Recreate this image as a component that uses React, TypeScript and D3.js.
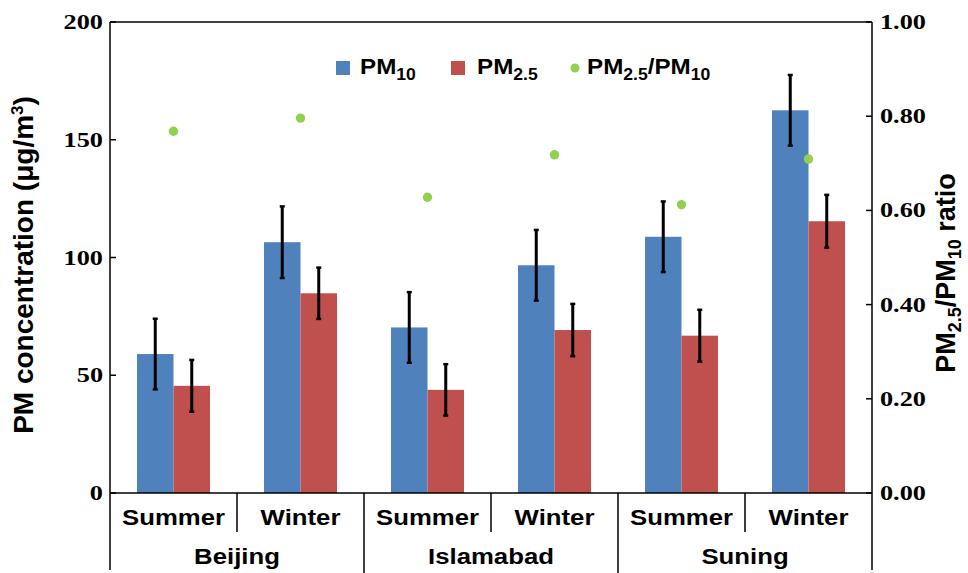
import React from "react";
import * as d3 from "d3";

const seasons = ["Summer", "Winter", "Summer", "Winter", "Summer", "Winter"];
const cities = ["Beijing", "Islamabad", "Suning"];
const pm10 = [59, 106.5, 70.3, 96.7, 108.8, 162.5];
const pm10Err = [15, 15.2, 15, 15, 15, 15];
const pm25 = [45.5, 84.8, 43.8, 69.2, 66.8, 115.4];
const pm25Err = [11, 10.9, 10.9, 11.1, 11, 11.2];
const ratio = [0.768, 0.796, 0.628, 0.718, 0.612, 0.709];
const leftTicks = [0, 50, 100, 150, 200];
const rightTicks = [0, 0.2, 0.4, 0.6, 0.8, 1.0];

const BLUE = "#4F81BD";
const RED = "#C0504D";
const GREEN = "#92D050";
const SANS = "'Liberation Sans', Arial, sans-serif";
const SERIF = "'Liberation Serif', 'Times New Roman', serif";

export default function App() {
  const W = 968, H = 573;
  const x0 = 110, x1 = 872, yTop = 22, yBot = 493;
  const idx = seasons.map((_, i) => String(i));
  const x = d3.scaleBand().domain(idx).range([x0, x1]).paddingInner(0).paddingOuter(0);
  const sub = d3.scaleBand().domain(["pm10", "pm25"]).range([0, x.bandwidth()]).paddingOuter(0.74).paddingInner(0);
  const yL = d3.scaleLinear().domain([0, 200]).range([yBot, yTop]);
  const yR = d3.scaleLinear().domain([0, 1]).range([yBot, yTop]);
  const bw = sub.bandwidth();

  const stretched = (key: string, tx: number, ty: number, s: number, anchor: string, content: React.ReactNode, size: number, family: string) => (
    <g key={key} transform={`translate(${tx},${ty}) scale(${s},1)`}>
      <text x={0} y={0} textAnchor={anchor as any} fontFamily={family} fontWeight="bold" fontSize={size} fill="#000">
        {content}
      </text>
    </g>
  );

  const errBar = (key: string, cx: number, v: number, e: number) => {
    const yt = yL(v + e), yb = yL(v - e);
    return (
      <g key={key} stroke="#000">
        <line x1={cx} x2={cx} y1={yt} y2={yb} strokeWidth={3} />
        <line x1={cx - 2.5} x2={cx + 2.5} y1={yt} y2={yt} strokeWidth={2.5} />
        <line x1={cx - 2.5} x2={cx + 2.5} y1={yb} y2={yb} strokeWidth={2.5} />
      </g>
    );
  };

  const cityCenters = cities.map((_, c) => (x(String(2 * c))! + x(String(2 * c + 1))! + x.bandwidth()) / 2);

  return (
    <svg width={W} height={H} style={{ position: "absolute", left: 0, top: 0, background: "#fff" }}>
      <rect x={0} y={0} width={W} height={H} fill="#fff" />
      {/* bars */}
      {idx.map((k, i) => {
        const bx = x(k)!;
        return (
          <g key={"b" + k}>
            <rect x={bx + sub("pm10")!} y={yL(pm10[i])} width={bw} height={yBot - yL(pm10[i])} fill={BLUE} />
            <rect x={bx + sub("pm25")!} y={yL(pm25[i])} width={bw} height={yBot - yL(pm25[i])} fill={RED} />
          </g>
        );
      })}
      {/* error bars */}
      {idx.map((k, i) => {
        const bx = x(k)!;
        return (
          <g key={"e" + k}>
            {errBar("e10" + k, bx + sub("pm10")! + bw / 2, pm10[i], pm10Err[i])}
            {errBar("e25" + k, bx + sub("pm25")! + bw / 2, pm25[i], pm25Err[i])}
          </g>
        );
      })}
      {/* ratio dots */}
      {idx.map((k, i) => (
        <circle key={"d" + k} cx={x(k)! + x.bandwidth() / 2} cy={yR(ratio[i])} r={4.7} fill={GREEN} />
      ))}
      {/* frame */}
      <g stroke="#000" strokeWidth={1.5} fill="none">
        <line x1={x0} x2={x0} y1={yTop} y2={570} />
        <line x1={x1} x2={x1} y1={yTop} y2={570} />
        <line x1={x0} x2={x1} y1={yTop} y2={yTop} />
        <line x1={x0} x2={x1} y1={yBot} y2={yBot} />
        {leftTicks.map((t) => (
          <line key={"lt" + t} x1={x0} x2={x0 + 6} y1={yL(t)} y2={yL(t)} />
        ))}
        {rightTicks.map((t) => (
          <line key={"rt" + t} x1={x1 - 6} x2={x1} y1={yR(t)} y2={yR(t)} />
        ))}
        {cities.map((_, c) => {
          const sx = x(String(2 * c + 1))!;
          return <line key={"ss" + c} x1={sx} x2={sx} y1={yBot} y2={532} />;
        })}
        {cities.slice(1).map((_, c) => {
          const sx = x(String(2 * (c + 1)))!;
          return <line key={"cs" + c} x1={sx} x2={sx} y1={yBot} y2={573} />;
        })}
      </g>
      {/* tick labels */}
      {leftTicks.map((t) => stretched("ll" + t, 103, yL(t) + 7, 1.25, "end", d3.format("d")(t), 21, SERIF))}
      {rightTicks.map((t) => stretched("rl" + t, 880, yR(t) + 7, 1.25, "start", d3.format(".2f")(t), 21, SERIF))}
      {/* category labels */}
      {idx.map((k, i) => stretched("sl" + k, x(k)! + x.bandwidth() / 2, 525, 1.17, "middle", seasons[i], 22, SANS))}
      {cities.map((c, j) => stretched("cl" + c, cityCenters[j], 564, 1.17, "middle", c, 22, SANS))}
      {/* axis titles */}
      <text transform={`translate(33,265) rotate(-90)`} textAnchor="middle" fontFamily={SANS} fontWeight="bold" fontSize={28} fill="#000">
        PM concentration (μg/m<tspan dy={-10} fontSize={17}>3</tspan><tspan dy={10}>)</tspan>
      </text>
      <text transform={`translate(955,273) rotate(-90)`} textAnchor="middle" fontFamily={SANS} fontWeight="bold" fontSize={27} fill="#000">
        PM<tspan dy={6} fontSize={18}>2.5</tspan><tspan dy={-6}>/PM</tspan><tspan dy={6} fontSize={18}>10</tspan><tspan dy={-6}> ratio</tspan>
      </text>
      {/* legend */}
      <rect x={336} y={61} width={14} height={14} fill={BLUE} />
      {stretched("lg1", 360, 74, 1.1, "start", [<tspan key="a">PM</tspan>, <tspan key="b" dy={6} fontSize={16}>10</tspan>], 22, SANS)}
      <rect x={451} y={61} width={14} height={14} fill={RED} />
      {stretched("lg2", 477, 74, 1.1, "start", [<tspan key="a">PM</tspan>, <tspan key="b" dy={6} fontSize={16}>2.5</tspan>], 22, SANS)}
      <circle cx={575} cy={68} r={4.5} fill={GREEN} />
      {stretched("lg3", 587, 74, 1.1, "start", [
        <tspan key="a">PM</tspan>,
        <tspan key="b" dy={6} fontSize={16}>2.5</tspan>,
        <tspan key="c" dy={-6}>/PM</tspan>,
        <tspan key="d" dy={6} fontSize={16}>10</tspan>,
      ], 22, SANS)}
    </svg>
  );
}
